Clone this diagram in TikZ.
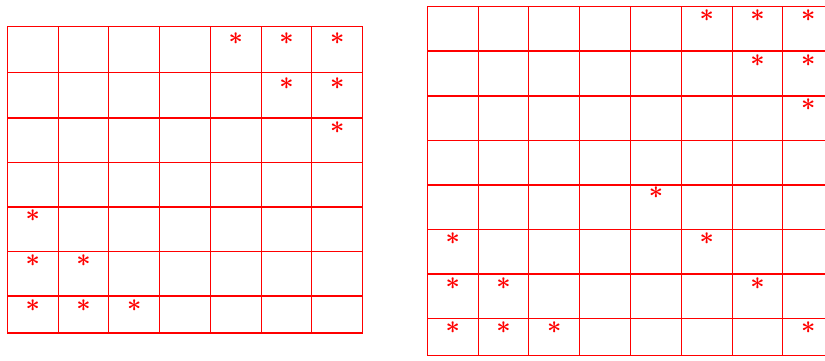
\documentclass[tikz,border=0pt]{standalone}
\begin{document}
\begin{tikzpicture}[x=1pt,y=-1pt,
  gridline/.style={red, line width=1.05pt},
  star/.style={text=red, inner sep=0pt, text height=0.47em, text depth=0pt, yshift=-2.5pt, font=\fontsize{36}{36}\selectfont\boldmath}]
\useasboundingbox (0,0) rectangle (825,360);
% left grid
\foreach \y in {26.3,72.7,118,162.7,207,251.3,296,333}
  \draw[gridline] (7.3,\y) -- (362.7,\y);
\foreach \x in {7.3,58.07,108.84,159.61,210.38,261.15,311.92,362.7}
  \draw[gridline] (\x,26.3) -- (\x,333);
% right grid
\foreach \y in {6.3,51,96,140.7,185,229.3,274,318.3,355.7}
  \draw[gridline] (427.3,\y) -- (833.7,\y);
\foreach \x in {427.3,478.1,528.9,579.7,630.5,681.3,732.1,782.9,833.7}
  \draw[gridline] (\x,6.3) -- (\x,355.7);
% left asterisks
\node[star] (l04) at (235.8,39.5) {$\ast$};
\node[star] (l05) at (286.5,39.5) {$\ast$};
\node[star] (l06) at (337.3,39.5) {$\ast$};
\node[star] (l15) at (286.5,85) {$\ast$};
\node[star] (l16) at (337.3,85) {$\ast$};
\node[star] (l26) at (337.3,128.5) {$\ast$};
\node[star] (l40) at (32.7,216.5) {$\ast$};
\node[star] (l50) at (32.7,261.5) {$\ast$};
\node[star] (l51) at (83.5,261.5) {$\ast$};
\node[star] (l60) at (32.7,306.5) {$\ast$};
\node[star] (l61) at (83.5,306.5) {$\ast$};
\node[star] (l62) at (134.2,306.5) {$\ast$};
% right asterisks
\node[star] (r05) at (706.7,17) {$\ast$};
\node[star] (r06) at (757.5,17) {$\ast$};
\node[star] (r07) at (808.3,17) {$\ast$};
\node[star] (r16) at (757.5,62) {$\ast$};
\node[star] (r17) at (808.3,62) {$\ast$};
\node[star] (r27) at (808.3,106) {$\ast$};
\node[star] (r44) at (655.9,194) {$\ast$};
\node[star] (r50) at (452.7,240) {$\ast$};
\node[star] (r55) at (706.7,240) {$\ast$};
\node[star] (r60) at (452.7,285) {$\ast$};
\node[star] (r61) at (503.5,285) {$\ast$};
\node[star] (r66) at (757.5,285) {$\ast$};
\node[star] (r70) at (452.7,329) {$\ast$};
\node[star] (r71) at (503.5,329) {$\ast$};
\node[star] (r72) at (554.3,329) {$\ast$};
\node[star] (r77) at (808.3,329) {$\ast$};
\end{tikzpicture}
\end{document}
